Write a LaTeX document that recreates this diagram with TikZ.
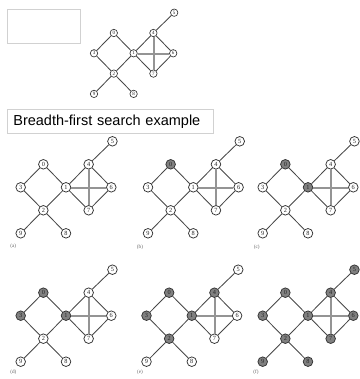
\documentclass[tikz,border=0pt]{standalone}
\usepackage{fontspec}
\setmainfont{Liberation Serif}
\newfontfamily\titlefont{Liberation Sans}

\tikzset{
  vtx/.style={circle, draw=black!80, fill=white, line width=0.75pt, inner sep=0pt,
              minimum size=9.6pt, font=\fontsize{6.3}{6.3}\selectfont, text=black!85},
  vtxsmall/.style={vtx, minimum size=7.4pt, line width=0.65pt, font=\fontsize{5}{5}\selectfont},
  shaded/.style={fill=black!50},
  edge/.style={draw=black!72, line width=0.85pt},
  thinedge/.style={draw=black!42, line width=0.3pt},
  f0/.style={}, f1/.style={}, f2/.style={}, f3/.style={}, f4/.style={},
  f5/.style={}, f6/.style={}, f7/.style={}, f8/.style={}, f9/.style={},
  panellabel/.style={font=\fontsize{5.2}{5.2}\selectfont, text=black!60, inner sep=0pt},
  frame/.style={draw=black!18, line width=0.7pt, inner sep=0pt},
}

% #1 name prefix, #2/#3 position of vertex 3, #4/#5 grid step, #6 vertex style
\newcommand\bfsgraph[6]{%
  \begin{scope}[shift={(#2,#3)}]
    \foreach \k/\c/\r in {0/1/-1, 3/0/0, 1/2/0, 2/1/1, 9/0/2, 8/2/2,
                          4/3/-1, 6/4/0, 7/3/1, 5/4.05/-2}
      \node[#6, f\k] (#1\k) at (\c*#4, \r*#5) {\k};
    \foreach \a/\b in {0/3, 0/1, 3/2, 1/2, 2/9, 2/8, 1/4, 1/7, 4/6, 6/7, 4/5}
      \draw[edge] (#1\a) -- (#1\b);
    % the two crossing diagonals of the square are drawn as twin hairlines
    \draw[thinedge, transform canvas={yshift=0.5pt}] (#11) -- (#16);
    \draw[thinedge, transform canvas={yshift=-0.5pt}] (#11) -- (#16);
    \draw[thinedge, transform canvas={xshift=0.5pt}] (#14) -- (#17);
    \draw[thinedge, transform canvas={xshift=-0.5pt}] (#14) -- (#17);
  \end{scope}}

\begin{document}
\begin{tikzpicture}[x=1pt, y=-1pt]
  \useasboundingbox (0,0) rectangle (359,379);

  % empty box and small overview graph
  \node[frame, minimum width=73pt, minimum height=34pt, anchor=north west] (blank) at (7,9) {};
  \bfsgraph{t}{94}{53.3}{19.8}{20.3}{vtxsmall}

  % title
  \node[frame, anchor=north west, minimum height=24pt, text width=194pt, inner xsep=6pt,
        align=left, font=\titlefont\fontsize{14.5}{15}\selectfont] (title) at (7,109)
        {Breadth-first search example};

  % six stages of the search
  \bfsgraph{a}{20.7}{187.3}{22.65}{23}{vtx}
  \begin{scope}[f0/.style={shaded}]
    \bfsgraph{b}{148}{187.3}{22.65}{23}{vtx}
  \end{scope}
  \begin{scope}[f0/.style={shaded}, f1/.style={shaded}]
    \bfsgraph{c}{262.7}{187.3}{22.65}{23}{vtx}
  \end{scope}
  \begin{scope}[f0/.style={shaded}, f1/.style={shaded}, f3/.style={shaded}]
    \bfsgraph{d}{20.7}{315.7}{22.65}{23}{vtx}
  \end{scope}
  \begin{scope}[f0/.style={shaded}, f1/.style={shaded}, f3/.style={shaded},
                f2/.style={shaded}, f4/.style={shaded}]
    \bfsgraph{e}{146.5}{315.7}{22.65}{23}{vtx}
  \end{scope}
  \begin{scope}[f0/.style={shaded}, f1/.style={shaded}, f2/.style={shaded},
                f3/.style={shaded}, f4/.style={shaded}, f5/.style={shaded},
                f6/.style={shaded}, f7/.style={shaded}, f8/.style={shaded},
                f9/.style={shaded}]
    \bfsgraph{f}{262.7}{315.7}{22.65}{23}{vtx}
  \end{scope}

  % stage labels
  \node[panellabel] (la) at (13.3,246.7) {(a)};
  \node[panellabel] (lb) at (140,247.3) {(b)};
  \node[panellabel] (lc) at (256.7,247.3) {(c)};
  \node[panellabel] (ld) at (13.3,372.3) {(d)};
  \node[panellabel] (le) at (140,372.3) {(e)};
  \node[panellabel] (lf) at (256,372.3) {(f)};
\end{tikzpicture}
\end{document}
